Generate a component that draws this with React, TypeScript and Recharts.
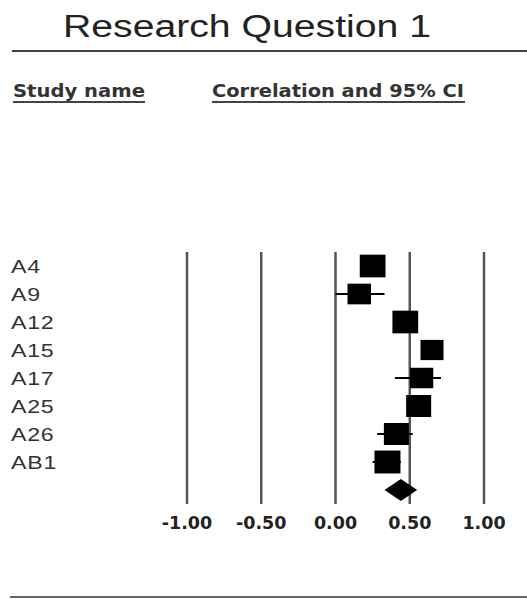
import React from 'react';
import { ScatterChart, Scatter, XAxis, YAxis, ErrorBar, ReferenceLine } from 'recharts';

const studies = ['A4', 'A9', 'A12', 'A15', 'A17', 'A25', 'A26', 'AB1'];
const correlation = [0.25, 0.16, 0.47, 0.65, 0.58, 0.56, 0.41, 0.35];
const lowerCI = [0.17, 0.0, 0.4, 0.58, 0.4, 0.48, 0.28, 0.25];
const upperCI = [0.33, 0.33, 0.54, 0.71, 0.71, 0.63, 0.52, 0.44];
const weights = [1.03, 0.94, 1.03, 0.92, 0.93, 1.0, 1.0, 1.04];
const summaryR = 0.44;
const summaryLower = 0.33;
const summaryUpper = 0.55;
const xTicks = [-1, -0.5, 0, 0.5, 1];
const xDomain: [number, number] = [-1, 1];

const W = 527;
const H = 599;
const X_AXIS_H = 30;
const Y_AXIS_W = 40;
const MARGIN = { top: 252, right: 43, bottom: 95 - X_AXIS_H, left: 187 - Y_AXIS_W };
const PLOT_W = W - 187 - MARGIN.right;
const PX_PER_UNIT = PLOT_W / (xDomain[1] - xDomain[0]);
const ROWS = studies.length + 1;

const studyData = studies.map((name, i) => ({
  name,
  r: correlation[i],
  row: i + 0.5,
  w: weights[i],
  err: [correlation[i] - lowerCI[i], upperCI[i] - correlation[i]],
}));
const summaryData = [{ r: summaryR, row: studies.length + 0.5, lo: summaryLower, hi: summaryUpper }];
const rowTicks = studies.map((_, i) => i + 0.5);

const SquareShape = (props: any) => {
  const { cx, cy, payload } = props;
  const w = 25 * payload.w;
  const h = 22 * payload.w;
  return <rect x={cx - w / 2} y={cy - h / 2} width={w} height={h} fill="#000" />;
};

const DiamondShape = (props: any) => {
  const { cx, cy, payload } = props;
  const left = cx - (payload.r - payload.lo) * PX_PER_UNIT;
  const right = cx + (payload.hi - payload.r) * PX_PER_UNIT;
  const hh = 11;
  return <polygon points={`${left},${cy} ${cx},${cy - hh} ${right},${cy} ${cx},${cy + hh}`} fill="#000" />;
};

const XTick = (props: any) => {
  const { x, y, payload } = props;
  return (
    <text x={x} y={y + 17} textAnchor="middle" fontFamily="'DejaVu Sans', sans-serif" fontWeight="bold" fontSize={17.5} fill="#222">
      {Number(payload.value).toFixed(2)}
    </text>
  );
};

const YTick = (props: any) => {
  const { y, payload } = props;
  const idx = Math.round(payload.value - 0.5);
  return (
    <text
      transform={`translate(11, ${y}) scale(1.22, 1)`}
      x={0}
      y={0}
      dy="0.36em"
      textAnchor="start"
      fontFamily="'Liberation Sans', Arial, sans-serif"
      fontSize={19}
      letterSpacing={0.6}
      fill="#333"
    >
      {studies[idx]}
    </text>
  );
};

export default function App() {
  return (
    <div style={{ position: 'absolute', left: 0, top: 0, width: W, height: H, background: '#fff' }}>
      <ScatterChart width={W} height={H} margin={MARGIN}>
        <XAxis
          type="number"
          dataKey="r"
          domain={xDomain}
          ticks={xTicks}
          axisLine={false}
          tickLine={false}
          tick={<XTick />}
          interval={0}
          height={X_AXIS_H}
          allowDataOverflow
        />
        <YAxis
          type="number"
          dataKey="row"
          domain={[0, ROWS]}
          reversed
          ticks={rowTicks}
          axisLine={false}
          tickLine={false}
          tick={<YTick />}
          interval={0}
          width={Y_AXIS_W}
        />
        {xTicks.map((t) => (
          <ReferenceLine key={t} x={t} stroke="#555" strokeWidth={2.5} />
        ))}
        <Scatter data={studyData} shape={<SquareShape />} isAnimationActive={false}>
          <ErrorBar dataKey="err" direction="x" width={0} stroke="#000" strokeWidth={2} />
        </Scatter>
        <Scatter data={summaryData} shape={<DiamondShape />} isAnimationActive={false} />
      </ScatterChart>
      <svg width={W} height={H} style={{ position: 'absolute', left: 0, top: 0, pointerEvents: 'none' }}>
        <text x={63} y={37} fontFamily="'Liberation Sans', Arial, sans-serif" fontSize={31} fill="#222" textLength={368} lengthAdjust="spacingAndGlyphs">
          Research Question 1
        </text>
        <line x1={12} y1={51} x2={527} y2={51} stroke="#444" strokeWidth={2} />
        <text x={13} y={97} fontFamily="'DejaVu Sans', sans-serif" fontWeight="bold" fontSize={18} fill="#333" textLength={132} lengthAdjust="spacingAndGlyphs">
          Study name
        </text>
        <line x1={13} y1={102} x2={145} y2={102} stroke="#444" strokeWidth={2} />
        <text x={212} y={97} fontFamily="'DejaVu Sans', sans-serif" fontWeight="bold" fontSize={18} fill="#333" textLength={252} lengthAdjust="spacingAndGlyphs">
          Correlation and 95% CI
        </text>
        <line x1={212} y1={102} x2={465} y2={102} stroke="#444" strokeWidth={2} />
        <line x1={10} y1={597} x2={527} y2={597} stroke="#666" strokeWidth={2} />
      </svg>
    </div>
  );
}
